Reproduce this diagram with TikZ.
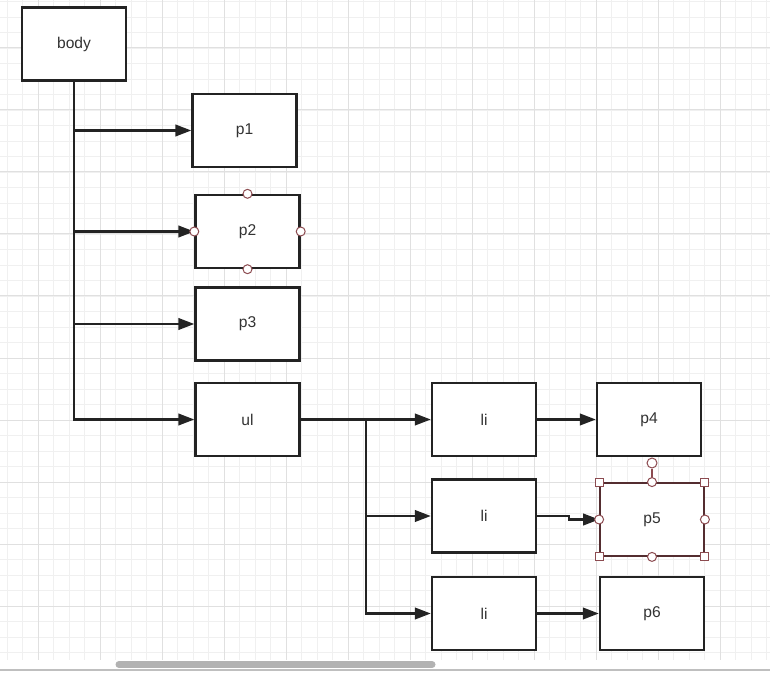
\documentclass[tikz,border=0pt]{standalone}
\usepackage{fontspec}
\setmainfont{Liberation Sans}
\usepackage{tikz}
\usetikzlibrary{arrows.meta}
\definecolor{edge}{RGB}{35,35,35}
\definecolor{handle}{RGB}{140,75,80}
\definecolor{gridmin}{RGB}{240,240,240}
\definecolor{gridmaj}{RGB}{224,224,224}

\begin{document}
\begin{tikzpicture}[x=0.5pt, y=-0.5pt, font=\fontsize{7.8}{9}\selectfont,
  >={Triangle[length=8pt,width=5.8pt]},
  elem/.style={rectangle, draw=edge, fill=white, line width=1.2pt, text=black!80,
               minimum width=52pt, minimum height=36.5pt, inner sep=0pt},
  link/.style={->, draw=edge, line width=1.1pt},
  knob/.style={circle, draw=handle, fill=white, line width=0.5pt, inner sep=0pt, minimum size=4.5pt},
  corner/.style={rectangle, draw=handle, fill=white, line width=0.5pt, inner sep=0pt, minimum size=4pt}]
  \useasboundingbox (0,0) rectangle (770,673);
  % canvas grid
  \foreach \i in {0,...,49} \draw[gridmin, line width=0.4pt] ({7+15.5*\i},0) -- ({7+15.5*\i},660);
  \foreach \i in {0,...,42} \draw[gridmin, line width=0.4pt] (0,{1.5+15.5*\i}) -- (770,{1.5+15.5*\i});
  \foreach \i in {0,...,11} \draw[gridmaj, line width=0.5pt] ({38+62*\i},0) -- ({38+62*\i},660);
  \foreach \i in {0,...,9} \draw[gridmaj, line width=0.5pt] (0,{48+62*\i}) -- (770,{48+62*\i});

  \node[elem] (body) at (74,44)      {body};
  \node[elem] (p1)   at (244.5,130.5) {p1};
  \node[elem] (p2)   at (247.5,231.5) {p2};
  \node[elem] (p3)   at (247.5,324)   {p3};
  \node[elem] (ul)   at (247.5,419.5) {ul};
  \node[elem] (li1)  at (484,419.5)   {li};
  \node[elem] (li2)  at (484,516)     {li};
  \node[elem] (li3)  at (484,613.5)   {li};
  \node[elem] (p4)   at (649,419.5)   {p4};
  \node[elem, draw=handle!60!black, line width=0.9pt] (p5) at (652,519.5) {p5};
  \node[elem] (p6)   at (652,613.5)   {p6};
  \coordinate (fork) at (366,419.5);

  \draw[link] (body.south) |- (p1.west);
  \draw[link] (body.south) |- (p2.west);
  \draw[link] (body.south) |- (p3.west);
  \draw[link] (body.south) |- (ul.west);
  \draw[link] (ul.east) -- (li1.west);
  \draw[link] (fork) |- (li2.west);
  \draw[link] (fork) |- (li3.west);
  \draw[link] (li1.east) -- (p4.west);
  \draw[link] (li2.east) -- +(32,0) |- (p5.west);
  \draw[link] (li3.east) -- (p6.west);

  % selection handles
  \foreach \a in {north,south,east,west} \node[knob] (p2\a) at (p2.\a) {};
  \node[knob, minimum size=5pt] (spin) at (652,463) {};
  \draw[handle, line width=0.6pt] (spin) -- (p5.north);
  \foreach \a in {north east,north west,south east,south west} \node[corner] at (p5.\a) {};
  \foreach \a in {north,south,east,west} \node[knob] at (p5.\a) {};

  % scrollbar
  \fill[white] (0,660) rectangle (770,673);
  \draw[black!30, line width=3.5pt, line cap=round] (119,664.5) -- (432,664.5);
  \draw[black!25, line width=0.8pt] (0,670) -- (770,670);
\end{tikzpicture}
\end{document}
